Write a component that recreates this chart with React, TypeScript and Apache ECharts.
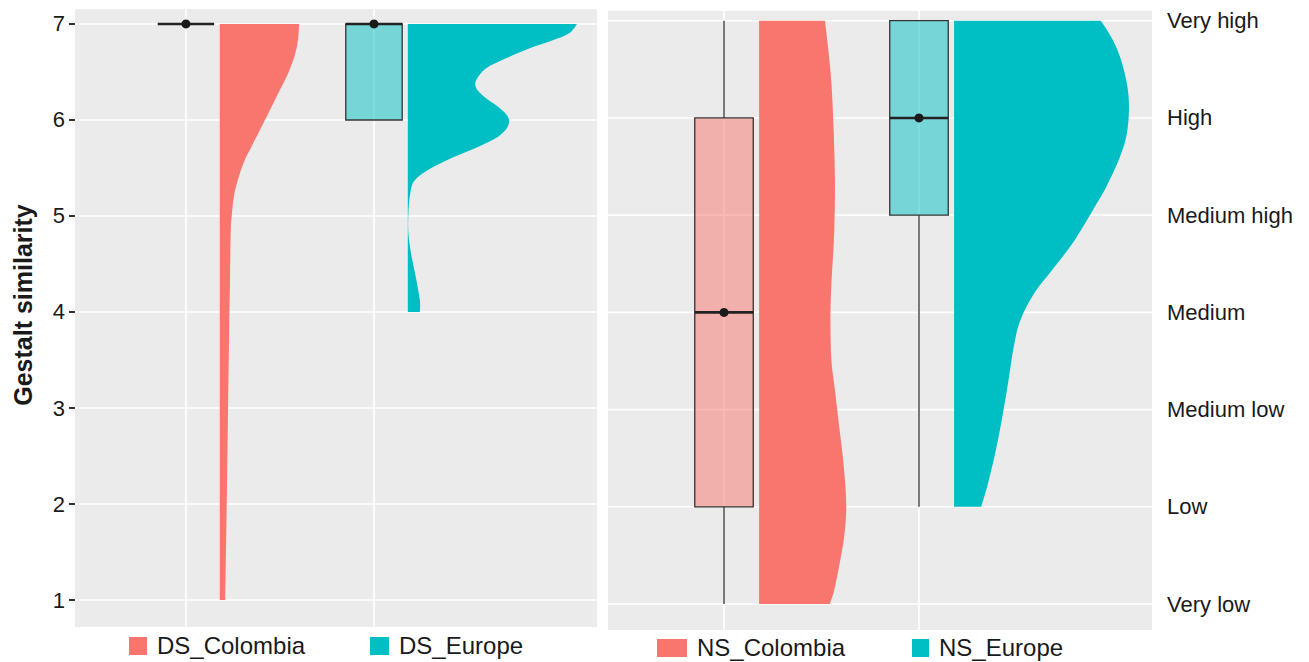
import React, { useEffect, useRef } from "react";
import * as echarts from "echarts";

// Rating scale
const LEVELS = [1, 2, 3, 4, 5, 6, 7];
const LEVEL_NAMES = ["Very low", "Low", "Medium low", "Medium", "Medium high", "High", "Very high"];

const LEFT_GROUPS = ["DS_Colombia", "DS_Europe"];
const RIGHT_GROUPS = ["NS_Colombia", "NS_Europe"];
const GROUP_POSITIONS = [1, 2];

// Box statistics: [position, min, q1, median, q3, max]
const DS_COLOMBIA_BOX = [1, 7, 7, 7, 7, 7];
const DS_EUROPE_BOX = [2, 6, 6, 7, 7, 7];
const NS_COLOMBIA_BOX = [1, 1, 2, 4, 6, 7];
const NS_EUROPE_BOX = [2, 2, 5, 6, 7, 7];

// Half-violin density profiles: [rating, scaled density (x units)]
const DS_COLOMBIA_DENSITY = [
  [7.0, 0.422], [6.82, 0.415], [6.65, 0.395], [6.47, 0.36], [6.295, 0.315],
  [6.087, 0.262], [5.913, 0.218], [5.74, 0.173], [5.566, 0.129], [5.393, 0.099],
  [5.219, 0.076], [5.01, 0.064], [4.82, 0.058], [4.3, 0.054], [3.813, 0.05],
  [2.979, 0.044], [2.007, 0.037], [1.0, 0.029],
];
const DS_EUROPE_DENSITY = [
  [7.0, 0.9], [6.903, 0.858], [6.833, 0.774], [6.747, 0.648], [6.642, 0.522],
  [6.538, 0.417], [6.417, 0.364], [6.33, 0.364], [6.243, 0.406], [6.139, 0.48],
  [6.035, 0.532], [5.931, 0.532], [5.826, 0.48], [5.722, 0.375], [5.618, 0.248],
  [5.497, 0.122], [5.375, 0.038], [5.236, 0.013], [5.028, 0.003], [4.82, 0.003],
  [4.611, 0.017], [4.368, 0.042], [4.125, 0.064], [4.0, 0.064],
];
const NS_COLOMBIA_DENSITY = [
  [7.0, 0.338], [6.7, 0.355], [6.356, 0.371], [5.84, 0.383], [5.327, 0.389],
  [4.813, 0.385], [4.3, 0.371], [3.92, 0.366], [3.506, 0.371], [3.2, 0.389],
  [2.79, 0.413], [2.38, 0.436], [2.0, 0.447], [1.69, 0.436], [1.418, 0.413],
  [1.143, 0.385], [1.0, 0.362],
];
const NS_EUROPE_DENSITY = [
  [7.0, 0.753], [6.835, 0.805], [6.63, 0.851], [6.356, 0.886], [6.115, 0.897],
  [5.84, 0.886], [5.6, 0.851], [5.292, 0.781], [5.053, 0.712], [4.744, 0.619],
  [4.435, 0.503], [4.195, 0.41], [3.92, 0.34], [3.646, 0.306], [3.2, 0.271],
  [2.686, 0.225], [2.274, 0.178], [2.0, 0.139],
];

const COLOMBIA = "#F8766D";
const EUROPE = "#00BFC4";
const COLOMBIA_BOX_FILL = "rgba(248,118,109,0.5)";
const EUROPE_BOX_FILL = "rgba(0,191,196,0.5)";
const PANEL_BG = "#EBEBEB";
const TEXT = "#1a1a1a";
const FONT = "'Liberation Sans', Arial, Helvetica, sans-serif";

const VIOLIN_OFFSET = 0.18;
const BOX_HALF = 0.15;

// Smooth outline through the density points (Catmull-Rom as cubic Béziers)
function smoothEdge(pts: number[][]): string {
  let d = "";
  for (let i = 0; i < pts.length - 1; i++) {
    const p0 = pts[i - 1] || pts[i];
    const p1 = pts[i];
    const p2 = pts[i + 1];
    const p3 = pts[i + 2] || p2;
    const c1x = p1[0] + (p2[0] - p0[0]) / 6;
    const c1y = p1[1] + (p2[1] - p0[1]) / 6;
    const c2x = p2[0] - (p3[0] - p1[0]) / 6;
    const c2y = p2[1] - (p3[1] - p1[1]) / 6;
    d += ` C${c1x.toFixed(2)},${c1y.toFixed(2)} ${c2x.toFixed(2)},${c2y.toFixed(2)} ${p2[0].toFixed(2)},${p2[1].toFixed(2)}`;
  }
  return d;
}

function violinSeries(gridIdx: number, pos: number, profile: number[][], color: string) {
  return {
    type: "custom",
    xAxisIndex: gridIdx,
    yAxisIndex: gridIdx,
    z: 3,
    silent: true,
    clip: false,
    data: [[pos + VIOLIN_OFFSET, profile[0][0]]],
    encode: { x: 0, y: 1 },
    renderItem: (_params: any, api: any) => {
      const base = pos + VIOLIN_OFFSET;
      const top = profile[0][0];
      const bottom = profile[profile.length - 1][0];
      const pts = profile.map(([y, w]) => api.coord([base + w, y]));
      const bTop = api.coord([base, top]);
      const bBottom = api.coord([base, bottom]);
      const d =
        `M${bTop[0].toFixed(2)},${bTop[1].toFixed(2)} L${pts[0][0].toFixed(2)},${pts[0][1].toFixed(2)}` +
        smoothEdge(pts) +
        ` L${bBottom[0].toFixed(2)},${bBottom[1].toFixed(2)} Z`;
      return { type: "path", shape: { pathData: d }, style: { fill: color } };
    },
  };
}

function boxSeries(gridIdx: number, boxes: number[][]) {
  const fills = [COLOMBIA_BOX_FILL, EUROPE_BOX_FILL];
  return {
    type: "custom",
    xAxisIndex: gridIdx,
    yAxisIndex: gridIdx,
    z: 4,
    silent: true,
    clip: false,
    data: boxes,
    dimensions: ["x", "min", "q1", "median", "q3", "max"],
    encode: { x: 0, y: [1, 2, 3, 4, 5] },
    renderItem: (params: any, api: any) => {
      const x = api.value(0);
      const lo = api.coord([x, api.value(1)]);
      const q1 = api.coord([x, api.value(2)]);
      const md = api.coord([x, api.value(3)]);
      const q3 = api.coord([x, api.value(4)]);
      const hi = api.coord([x, api.value(5)]);
      const left = api.coord([x - BOX_HALF, api.value(3)])[0];
      const right = api.coord([x + BOX_HALF, api.value(3)])[0];
      const stroke = { stroke: "#333333", lineWidth: 1.3 };
      const children: any[] = [];
      if (lo[1] - q1[1] > 0.5)
        children.push({ type: "line", shape: { x1: lo[0], y1: lo[1], x2: q1[0], y2: q1[1] }, style: stroke });
      if (q3[1] - hi[1] > 0.5)
        children.push({ type: "line", shape: { x1: q3[0], y1: q3[1], x2: hi[0], y2: hi[1] }, style: stroke });
      if (q1[1] - q3[1] > 0.5)
        children.push({
          type: "rect",
          shape: { x: left, y: q3[1], width: right - left, height: q1[1] - q3[1] },
          style: { fill: fills[params.dataIndex], stroke: "#333333", lineWidth: 1.3 },
        });
      children.push({
        type: "line",
        shape: { x1: left, y1: md[1], x2: right, y2: md[1] },
        style: { stroke: "#222222", lineWidth: 2.6 },
      });
      children.push({ type: "circle", shape: { cx: md[0], cy: md[1], r: 4.5 }, style: { fill: "#1a1a1a" } });
      return { type: "group", children };
    },
  };
}

function hGridSeries(gridIdx: number) {
  return {
    type: "custom",
    xAxisIndex: gridIdx,
    yAxisIndex: gridIdx,
    z: 1,
    silent: true,
    data: LEVELS.map((v) => [1, v]),
    encode: { x: 0, y: 1 },
    renderItem: (params: any, api: any) => {
      const cs = params.coordSys;
      const p = api.coord([api.value(0), api.value(1)]);
      return {
        type: "line",
        shape: { x1: cs.x, y1: p[1], x2: cs.x + cs.width, y2: p[1] },
        style: { stroke: "#FFFFFF", lineWidth: 1.6 },
      };
    },
  };
}

function vGridSeries(gridIdx: number) {
  return {
    type: "custom",
    xAxisIndex: gridIdx,
    yAxisIndex: gridIdx,
    z: 1,
    silent: true,
    data: GROUP_POSITIONS.map((v) => [v, 4]),
    encode: { x: 0, y: 1 },
    renderItem: (params: any, api: any) => {
      const cs = params.coordSys;
      const p = api.coord([api.value(0), api.value(1)]);
      return {
        type: "line",
        shape: { x1: p[0], y1: cs.y, x2: p[0], y2: cs.y + cs.height },
        style: { stroke: "#FFFFFF", lineWidth: 1.6 },
      };
    },
  };
}

function legendItem(x: number, y: number, w: number, color: string, label: string) {
  return [
    { type: "rect", left: x, top: y, shape: { width: w, height: 18 }, style: { fill: color } },
    {
      type: "text",
      left: x + w + 10,
      top: y - 4,
      style: { text: label, fontSize: 24, fontFamily: FONT, fill: TEXT },
    },
  ];
}

export default function App() {
  const ref = useRef<HTMLDivElement>(null);

  useEffect(() => {
    if (!ref.current) return;
    const chart = echarts.init(ref.current, undefined, { renderer: "svg" });
    const option: any = {
      animation: false,
      backgroundColor: "#FFFFFF",
      grid: [
        { left: 75, top: 9, width: 522, height: 618, show: true, backgroundColor: PANEL_BG, borderWidth: 0 },
        { left: 608, top: 11, width: 544, height: 619, show: true, backgroundColor: PANEL_BG, borderWidth: 0 },
      ],
      xAxis: [
        { gridIndex: 0, type: "value", min: 0.41, max: 3.186, show: false, splitLine: { show: false } },
        { gridIndex: 1, type: "value", min: 0.405, max: 3.195, show: false, splitLine: { show: false } },
      ],
      yAxis: [
        {
          gridIndex: 0,
          type: "value",
          min: 0.719,
          max: 7.156,
          position: "left",
          axisLine: { show: false },
          splitLine: { show: false },
          axisTick: { show: true, length: 6, customValues: LEVELS, lineStyle: { color: "#333333", width: 2 } },
          axisLabel: {
            customValues: LEVELS,
            fontSize: 22,
            fontFamily: FONT,
            color: TEXT,
            margin: 10,
            formatter: (v: number) => String(Math.round(v)),
          },
        },
        {
          gridIndex: 1,
          type: "value",
          min: 0.733,
          max: 7.1,
          position: "right",
          axisLine: { show: false },
          splitLine: { show: false },
          axisTick: { show: false },
          axisLabel: {
            customValues: LEVELS,
            fontSize: 22,
            fontFamily: FONT,
            color: TEXT,
            margin: 15,
            formatter: (v: number) => LEVEL_NAMES[Math.round(v) - 1],
          },
        },
      ],
      graphic: [
        {
          type: "text",
          x: 23,
          y: 305,
          rotation: Math.PI / 2,
          style: {
            text: "Gestalt similarity",
            fontSize: 25,
            fontWeight: "bold",
            fontFamily: FONT,
            fill: TEXT,
            align: "center",
            verticalAlign: "middle",
          },
        },
        ...legendItem(129, 637, 18, COLOMBIA, LEFT_GROUPS[0]),
        ...legendItem(370, 637, 19, EUROPE, LEFT_GROUPS[1]),
        ...legendItem(657, 639, 30, COLOMBIA, RIGHT_GROUPS[0]),
        ...legendItem(912, 639, 17, EUROPE, RIGHT_GROUPS[1]),
      ],
      series: [
        hGridSeries(0),
        vGridSeries(0),
        hGridSeries(1),
        vGridSeries(1),
        violinSeries(0, GROUP_POSITIONS[0], DS_COLOMBIA_DENSITY, COLOMBIA),
        violinSeries(0, GROUP_POSITIONS[1], DS_EUROPE_DENSITY, EUROPE),
        violinSeries(1, GROUP_POSITIONS[0], NS_COLOMBIA_DENSITY, COLOMBIA),
        violinSeries(1, GROUP_POSITIONS[1], NS_EUROPE_DENSITY, EUROPE),
        boxSeries(0, [DS_COLOMBIA_BOX, DS_EUROPE_BOX]),
        boxSeries(1, [NS_COLOMBIA_BOX, NS_EUROPE_BOX]),
      ],
    };
    chart.setOption(option);
    return () => chart.dispose();
  }, []);

  return (
    <div
      ref={ref}
      style={{ position: "absolute", left: 0, top: 0, width: 1309, height: 662 }}
    />
  );
}
